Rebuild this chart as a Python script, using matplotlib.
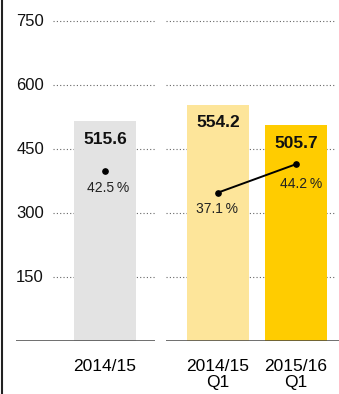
import matplotlib.pyplot as plt
from matplotlib.lines import Line2D

plt.rcParams['font.family'] = ['Liberation Sans', 'DejaVu Sans']

# data
year_labels = ['2014/15']
year_values = [515.6]
year_pct = [42.5]

quarter_labels = ['2014/15\nQ1', '2015/16\nQ1']
quarter_values = [554.2, 505.7]
quarter_pct = [37.1, 44.2]

grid_levels = [150, 300, 450, 600, 750]

# percent shown on same scale: 80 % equals 750
pct_scale = 750 / 80

fig = plt.figure(figsize=(3.39, 3.94), dpi=100)
W, H = 339, 394
bottom = 53 / H
height = 336 / H
ymax = 336 / 320 * 750

ax1 = fig.add_axes([16 / W, bottom, 139 / W, height])
ax2 = fig.add_axes([166 / W, bottom, 173 / W, height])

for ax in (ax1, ax2):
    ax.set_ylim(0, ymax)
    for s in ax.spines.values():
        s.set_visible(False)
    ax.set_yticks([])
    ax.tick_params(axis='x', length=0, labelsize=12.5, pad=13)
    ax.axhline(0, color='#444444', lw=1.8, zorder=4)

ax1.set_xlim(-89 / 78, 50 / 78)
ax2.set_xlim(-52 / 78, 121 / 78)

# grid lines
for lev in grid_levels:
    ax1.hlines(lev, -52 / 78, 50 / 78, colors='#666666', lw=0.8,
               linestyles=(0, (1, 2)), zorder=1)
    ax2.hlines(lev, -52 / 78, 118 / 78, colors='#666666', lw=0.8,
               linestyles=(0, (1, 2)), zorder=1)
    ax1.text(-61 / 78, lev, str(lev), ha='right', va='center', fontsize=12,
             color='#111111')

# bars
x1 = list(range(len(year_values)))
x2 = list(range(len(quarter_values)))
ax1.bar(x1, year_values, width=0.795, color='#e3e3e3', zorder=2)
ax2.bar(x2, quarter_values, width=0.795, color=['#fde59a', '#ffcc00'], zorder=2)

ax1.set_xticks(x1, year_labels)
ax2.set_xticks(x2, quarter_labels)
for lbl in ax2.get_xticklabels():
    lbl.set_linespacing(1.05)

# value labels
for ax, xs, vals in ((ax1, x1, year_values), (ax2, x2, quarter_values)):
    for x, v in zip(xs, vals):
        ax.annotate(f'{v:.1f}', (x, v), xytext=(0, -13), textcoords='offset points',
                    ha='center', va='center', fontsize=12.5, fontweight='bold',
                    color='#111111', zorder=5)

# percent line
ax1.plot(x1, [p * pct_scale for p in year_pct], 'o', color='black', ms=3.8, zorder=5)
ax2.plot(x2, [p * pct_scale for p in quarter_pct], '-o', color='black', ms=3.8,
         lw=1.4, zorder=5)

offsets = [(2, -12), (-1, -12), (4, -14)]
pts = [(ax1, x, p) for x, p in zip(x1, year_pct)] + \
      [(ax2, x, p) for x, p in zip(x2, quarter_pct)]
for (ax, x, p), off in zip(pts, offsets):
    ax.annotate(f'{p:.1f}\u2009%', (x, p * pct_scale), xytext=off,
                textcoords='offset points', ha='center', va='center',
                fontsize=10, color='#222222', zorder=5)

# left edge rule
fig.add_artist(Line2D([1.5 / W, 1.5 / W], [0, 1], color='#222222', lw=1.5))

fig.savefig('out.png', dpi=100)
